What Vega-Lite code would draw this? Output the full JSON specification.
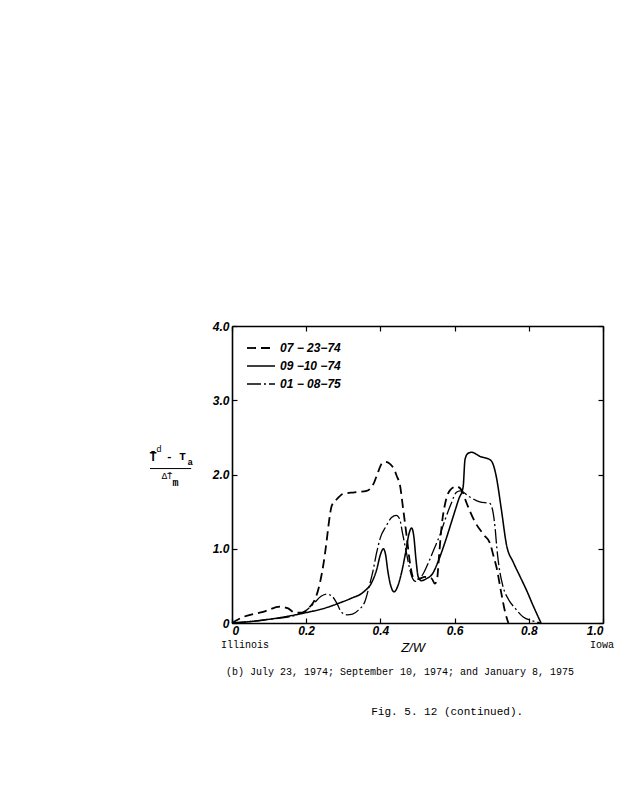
{
  "$schema": "https://vega.github.io/schema/vega-lite/v6.json",
  "width": 371,
  "height": 297,
  "autosize": {"type": "none"},
  "padding": {"left": 232, "top": 326, "right": 14, "bottom": 177},
  "background": "white",
  "config": {
    "view": {"stroke": null},
    "axis": {"grid": false, "domainColor": "black", "tickColor": "black", "labelColor": "black", "domainWidth": 1.6, "tickWidth": 1.2}
  },
  "datasets": {
    "curves": [
      {"series": "07 − 23−74", "x": 0, "y": 0},
      {"series": "07 − 23−74", "x": 0.03, "y": 0.08},
      {"series": "07 − 23−74", "x": 0.084, "y": 0.15},
      {"series": "07 − 23−74", "x": 0.13, "y": 0.22},
      {"series": "07 − 23−74", "x": 0.15, "y": 0.2},
      {"series": "07 − 23−74", "x": 0.17, "y": 0.14},
      {"series": "07 − 23−74", "x": 0.19, "y": 0.14},
      {"series": "07 − 23−74", "x": 0.21, "y": 0.22},
      {"series": "07 − 23−74", "x": 0.222, "y": 0.3},
      {"series": "07 − 23−74", "x": 0.237, "y": 0.54},
      {"series": "07 − 23−74", "x": 0.247, "y": 0.81},
      {"series": "07 − 23−74", "x": 0.255, "y": 1.1},
      {"series": "07 − 23−74", "x": 0.26, "y": 1.31},
      {"series": "07 − 23−74", "x": 0.269, "y": 1.58},
      {"series": "07 − 23−74", "x": 0.283, "y": 1.67},
      {"series": "07 − 23−74", "x": 0.3, "y": 1.74},
      {"series": "07 − 23−74", "x": 0.33, "y": 1.76},
      {"series": "07 − 23−74", "x": 0.363, "y": 1.78},
      {"series": "07 − 23−74", "x": 0.381, "y": 1.87},
      {"series": "07 − 23−74", "x": 0.395, "y": 2.05},
      {"series": "07 − 23−74", "x": 0.404, "y": 2.15},
      {"series": "07 − 23−74", "x": 0.413, "y": 2.17},
      {"series": "07 − 23−74", "x": 0.435, "y": 2.09},
      {"series": "07 − 23−74", "x": 0.444, "y": 1.98},
      {"series": "07 − 23−74", "x": 0.453, "y": 1.85},
      {"series": "07 − 23−74", "x": 0.461, "y": 1.55},
      {"series": "07 − 23−74", "x": 0.471, "y": 1.16},
      {"series": "07 − 23−74", "x": 0.48, "y": 0.8},
      {"series": "07 − 23−74", "x": 0.488, "y": 0.62},
      {"series": "07 − 23−74", "x": 0.5, "y": 0.59},
      {"series": "07 − 23−74", "x": 0.52, "y": 0.62},
      {"series": "07 − 23−74", "x": 0.538, "y": 0.6},
      {"series": "07 − 23−74", "x": 0.547, "y": 0.53},
      {"series": "07 − 23−74", "x": 0.553, "y": 0.6},
      {"series": "07 − 23−74", "x": 0.558, "y": 0.9},
      {"series": "07 − 23−74", "x": 0.565, "y": 1.3},
      {"series": "07 − 23−74", "x": 0.575, "y": 1.62},
      {"series": "07 − 23−74", "x": 0.588, "y": 1.79},
      {"series": "07 − 23−74", "x": 0.605, "y": 1.84},
      {"series": "07 − 23−74", "x": 0.62, "y": 1.78},
      {"series": "07 − 23−74", "x": 0.632, "y": 1.62},
      {"series": "07 − 23−74", "x": 0.655, "y": 1.36},
      {"series": "07 − 23−74", "x": 0.68, "y": 1.18},
      {"series": "07 − 23−74", "x": 0.695, "y": 1.08},
      {"series": "07 − 23−74", "x": 0.705, "y": 0.9},
      {"series": "07 − 23−74", "x": 0.713, "y": 0.75},
      {"series": "07 − 23−74", "x": 0.726, "y": 0.4},
      {"series": "07 − 23−74", "x": 0.736, "y": 0.15},
      {"series": "07 − 23−74", "x": 0.745, "y": 0},
      {"series": "09 −10 −74", "x": 0, "y": 0},
      {"series": "09 −10 −74", "x": 0.05, "y": 0.02},
      {"series": "09 −10 −74", "x": 0.1, "y": 0.05},
      {"series": "09 −10 −74", "x": 0.15, "y": 0.09},
      {"series": "09 −10 −74", "x": 0.2, "y": 0.14},
      {"series": "09 −10 −74", "x": 0.25, "y": 0.2},
      {"series": "09 −10 −74", "x": 0.29, "y": 0.27},
      {"series": "09 −10 −74", "x": 0.32, "y": 0.33},
      {"series": "09 −10 −74", "x": 0.355, "y": 0.42},
      {"series": "09 −10 −74", "x": 0.377, "y": 0.55},
      {"series": "09 −10 −74", "x": 0.39, "y": 0.72},
      {"series": "09 −10 −74", "x": 0.4, "y": 0.92},
      {"series": "09 −10 −74", "x": 0.408, "y": 1.0},
      {"series": "09 −10 −74", "x": 0.414, "y": 0.92},
      {"series": "09 −10 −74", "x": 0.42, "y": 0.7},
      {"series": "09 −10 −74", "x": 0.428, "y": 0.5},
      {"series": "09 −10 −74", "x": 0.437, "y": 0.42},
      {"series": "09 −10 −74", "x": 0.447, "y": 0.5},
      {"series": "09 −10 −74", "x": 0.458, "y": 0.7},
      {"series": "09 −10 −74", "x": 0.468, "y": 0.95},
      {"series": "09 −10 −74", "x": 0.477, "y": 1.2},
      {"series": "09 −10 −74", "x": 0.484, "y": 1.28},
      {"series": "09 −10 −74", "x": 0.49, "y": 1.17},
      {"series": "09 −10 −74", "x": 0.496, "y": 0.85},
      {"series": "09 −10 −74", "x": 0.502, "y": 0.62},
      {"series": "09 −10 −74", "x": 0.51, "y": 0.57},
      {"series": "09 −10 −74", "x": 0.525, "y": 0.6},
      {"series": "09 −10 −74", "x": 0.54, "y": 0.66},
      {"series": "09 −10 −74", "x": 0.555, "y": 0.82},
      {"series": "09 −10 −74", "x": 0.575, "y": 1.1},
      {"series": "09 −10 −74", "x": 0.596, "y": 1.43},
      {"series": "09 −10 −74", "x": 0.612, "y": 1.68},
      {"series": "09 −10 −74", "x": 0.623, "y": 1.83},
      {"series": "09 −10 −74", "x": 0.628, "y": 2.2},
      {"series": "09 −10 −74", "x": 0.635, "y": 2.28},
      {"series": "09 −10 −74", "x": 0.645, "y": 2.3},
      {"series": "09 −10 −74", "x": 0.67, "y": 2.24},
      {"series": "09 −10 −74", "x": 0.695, "y": 2.2},
      {"series": "09 −10 −74", "x": 0.705, "y": 2.12},
      {"series": "09 −10 −74", "x": 0.712, "y": 1.98},
      {"series": "09 −10 −74", "x": 0.726, "y": 1.53},
      {"series": "09 −10 −74", "x": 0.74, "y": 1.05},
      {"series": "09 −10 −74", "x": 0.758, "y": 0.82},
      {"series": "09 −10 −74", "x": 0.776, "y": 0.63},
      {"series": "09 −10 −74", "x": 0.794, "y": 0.44},
      {"series": "09 −10 −74", "x": 0.812, "y": 0.23},
      {"series": "09 −10 −74", "x": 0.833, "y": 0},
      {"series": "01 − 08−75", "x": 0, "y": 0},
      {"series": "01 − 08−75", "x": 0.05, "y": 0.02},
      {"series": "01 − 08−75", "x": 0.1, "y": 0.05},
      {"series": "01 − 08−75", "x": 0.15, "y": 0.08},
      {"series": "01 − 08−75", "x": 0.18, "y": 0.12},
      {"series": "01 − 08−75", "x": 0.2, "y": 0.17},
      {"series": "01 − 08−75", "x": 0.22, "y": 0.26},
      {"series": "01 − 08−75", "x": 0.24, "y": 0.36},
      {"series": "01 − 08−75", "x": 0.255, "y": 0.39},
      {"series": "01 − 08−75", "x": 0.27, "y": 0.36},
      {"series": "01 − 08−75", "x": 0.282, "y": 0.27},
      {"series": "01 − 08−75", "x": 0.296, "y": 0.14},
      {"series": "01 − 08−75", "x": 0.31, "y": 0.11},
      {"series": "01 − 08−75", "x": 0.325, "y": 0.12},
      {"series": "01 − 08−75", "x": 0.34, "y": 0.17},
      {"series": "01 − 08−75", "x": 0.359, "y": 0.3},
      {"series": "01 − 08−75", "x": 0.37, "y": 0.5},
      {"series": "01 − 08−75", "x": 0.38, "y": 0.7},
      {"series": "01 − 08−75", "x": 0.39, "y": 0.95},
      {"series": "01 − 08−75", "x": 0.4, "y": 1.15},
      {"series": "01 − 08−75", "x": 0.415, "y": 1.3},
      {"series": "01 − 08−75", "x": 0.43, "y": 1.42},
      {"series": "01 − 08−75", "x": 0.443, "y": 1.45},
      {"series": "01 − 08−75", "x": 0.452, "y": 1.4},
      {"series": "01 − 08−75", "x": 0.46, "y": 1.2},
      {"series": "01 − 08−75", "x": 0.47, "y": 0.95},
      {"series": "01 − 08−75", "x": 0.478, "y": 0.75},
      {"series": "01 − 08−75", "x": 0.485, "y": 0.62},
      {"series": "01 − 08−75", "x": 0.495, "y": 0.56},
      {"series": "01 − 08−75", "x": 0.505, "y": 0.6},
      {"series": "01 − 08−75", "x": 0.515, "y": 0.66},
      {"series": "01 − 08−75", "x": 0.53, "y": 0.82},
      {"series": "01 − 08−75", "x": 0.545, "y": 1.0},
      {"series": "01 − 08−75", "x": 0.56, "y": 1.18},
      {"series": "01 − 08−75", "x": 0.575, "y": 1.4},
      {"series": "01 − 08−75", "x": 0.59, "y": 1.6},
      {"series": "01 − 08−75", "x": 0.605, "y": 1.76},
      {"series": "01 − 08−75", "x": 0.615, "y": 1.78},
      {"series": "01 − 08−75", "x": 0.64, "y": 1.7},
      {"series": "01 − 08−75", "x": 0.668, "y": 1.63},
      {"series": "01 − 08−75", "x": 0.695, "y": 1.61},
      {"series": "01 − 08−75", "x": 0.704, "y": 1.48},
      {"series": "01 − 08−75", "x": 0.709, "y": 1.29},
      {"series": "01 − 08−75", "x": 0.714, "y": 1.0},
      {"series": "01 − 08−75", "x": 0.72, "y": 0.75},
      {"series": "01 − 08−75", "x": 0.73, "y": 0.5},
      {"series": "01 − 08−75", "x": 0.745, "y": 0.32},
      {"series": "01 − 08−75", "x": 0.763, "y": 0.2},
      {"series": "01 − 08−75", "x": 0.785, "y": 0.08},
      {"series": "01 − 08−75", "x": 0.81, "y": 0.03},
      {"series": "01 − 08−75", "x": 0.83, "y": 0}
    ]
  },
  "resolve": {"axis": {"x": "independent", "y": "independent"}},
  "layer": [
    {
      "data": {"name": "curves"},
      "mark": {"type": "line", "interpolate": "monotone", "color": "black"},
      "encoding": {
        "x": {
          "field": "x", "type": "quantitative",
          "scale": {"domain": [0, 1], "nice": false, "zero": false},
          "axis": {
            "orient": "bottom", "values": [0, 0.2, 0.4, 0.6, 0.8, 1],
            "labelExpr": "datum.value == 0 ? '0' : format(datum.value, '.1f')",
            "tickSize": -5, "labelPadding": 7, "title": null,
            "labelFont": "Liberation Sans", "labelFontStyle": "italic", "labelFontWeight": "bold", "labelFontSize": 12
          }
        },
        "y": {
          "field": "y", "type": "quantitative",
          "scale": {"domain": [0, 4], "nice": false},
          "axis": {
            "orient": "left", "values": [0, 1, 2, 3, 4],
            "labelExpr": "datum.value == 0 ? '0' : format(datum.value, '.1f')",
            "tickSize": -5, "labelPadding": 8, "title": null,
            "labelFont": "Liberation Sans", "labelFontStyle": "italic", "labelFontWeight": "bold", "labelFontSize": 12
          }
        },
        "strokeDash": {
          "field": "series", "type": "nominal",
          "scale": {"domain": ["07 − 23−74", "09 −10 −74", "01 − 08−75"], "range": [[9, 5], [1, 0], [14, 3, 2, 3]]},
          "legend": {
            "orient": "none", "legendX": 21, "legendY": 14, "title": null,
            "symbolType": "M-2,0H2", "symbolSize": 196, "symbolStrokeWidth": 1.6, "symbolStrokeColor": "black",
            "labelFont": "Liberation Sans", "labelFontStyle": "italic", "labelFontWeight": "bold", "labelFontSize": 12,
            "labelColor": "black", "labelOffset": 11, "rowPadding": 4
          }
        },
        "strokeWidth": {
          "field": "series", "type": "nominal",
          "scale": {"domain": ["07 − 23−74", "09 −10 −74", "01 − 08−75"], "range": [1.8, 1.3, 1.4]},
          "legend": null
        }
      }
    },
    {
      "data": {"values": [{"v": 0}]},
      "mark": {"type": "point", "opacity": 0},
      "encoding": {
        "x": {"field": "v", "type": "quantitative", "axis": {"orient": "top", "values": [0, 0.2, 0.4, 0.6, 0.8, 1], "labels": false, "tickSize": -5, "title": null}},
        "y": {"field": "v", "type": "quantitative", "axis": {"orient": "right", "values": [0, 1, 2, 3, 4], "labels": false, "tickSize": -5, "title": null}}
      }
    },
    {
      "data": {"values": [{"t": "Illinois"}]},
      "mark": {"type": "text", "font": "Liberation Mono", "fontSize": 10, "color": "black", "align": "center", "baseline": "middle"},
      "encoding": {"x": {"datum": 0.035, "type": "quantitative", "axis": null}, "y": {"datum": -0.3, "type": "quantitative", "axis": null}, "text": {"field": "t"}}
    },
    {
      "data": {"values": [{"t": "Iowa"}]},
      "mark": {"type": "text", "font": "Liberation Mono", "fontSize": 10, "color": "black", "align": "left", "baseline": "middle"},
      "encoding": {"x": {"datum": 0.965, "type": "quantitative", "axis": null}, "y": {"datum": -0.3, "type": "quantitative", "axis": null}, "text": {"field": "t"}}
    },
    {
      "data": {"values": [{"t": "Z/W"}]},
      "mark": {"type": "text", "font": "Liberation Sans", "fontStyle": "italic", "fontSize": 13, "color": "black", "align": "center", "baseline": "middle"},
      "encoding": {"x": {"datum": 0.488, "type": "quantitative", "axis": null}, "y": {"datum": -0.34, "type": "quantitative", "axis": null}, "text": {"field": "t"}}
    },
    {
      "data": {"values": [{"t": "(b) July 23, 1974; September 10, 1974; and January 8, 1975"}]},
      "mark": {"type": "text", "font": "Liberation Mono", "fontSize": 10, "color": "black", "align": "center", "baseline": "middle"},
      "encoding": {"x": {"datum": 0.453, "type": "quantitative", "axis": null}, "y": {"datum": -0.66, "type": "quantitative", "axis": null}, "text": {"field": "t"}}
    },
    {
      "data": {"values": [{"t": "Fig. 5. 12  (continued)."}]},
      "mark": {"type": "text", "font": "Liberation Mono", "fontSize": 11, "color": "black", "align": "center", "baseline": "middle"},
      "encoding": {"x": {"datum": 0.58, "type": "quantitative", "axis": null}, "y": {"datum": -1.2, "type": "quantitative", "axis": null}, "text": {"field": "t"}}
    },
    {
      "data": {"values": [{"t": "T̄"}]},
      "mark": {"type": "text", "font": "Liberation Mono", "fontWeight": "bold", "fontSize": 12, "color": "black", "align": "center", "baseline": "middle"},
      "encoding": {"x": {"datum": -0.213, "type": "quantitative", "axis": null}, "y": {"datum": 2.24, "type": "quantitative", "axis": null}, "text": {"field": "t"}}
    },
    {
      "data": {"values": [{"t": "d"}]},
      "mark": {"type": "text", "font": "Liberation Mono", "fontSize": 9, "color": "black", "align": "center", "baseline": "middle"},
      "encoding": {"x": {"datum": -0.197, "type": "quantitative", "axis": null}, "y": {"datum": 2.34, "type": "quantitative", "axis": null}, "text": {"field": "t"}}
    },
    {
      "data": {"values": [{"t": "- T"}]},
      "mark": {"type": "text", "font": "Liberation Mono", "fontWeight": "bold", "fontSize": 11, "color": "black", "align": "left", "baseline": "middle"},
      "encoding": {"x": {"datum": -0.178, "type": "quantitative", "axis": null}, "y": {"datum": 2.24, "type": "quantitative", "axis": null}, "text": {"field": "t"}}
    },
    {
      "data": {"values": [{"t": "a"}]},
      "mark": {"type": "text", "font": "Liberation Mono", "fontWeight": "bold", "fontSize": 9, "color": "black", "align": "left", "baseline": "middle"},
      "encoding": {"x": {"datum": -0.12, "type": "quantitative", "axis": null}, "y": {"datum": 2.17, "type": "quantitative", "axis": null}, "text": {"field": "t"}}
    },
    {
      "data": {"values": [{"a": -0.221, "b": -0.11}]},
      "mark": {"type": "rule", "color": "black", "strokeWidth": 1},
      "encoding": {"x": {"field": "a", "type": "quantitative", "axis": null}, "x2": {"field": "b"}, "y": {"datum": 2.08, "type": "quantitative", "axis": null}}
    },
    {
      "data": {"values": [{"t": "ΔT̄"}]},
      "mark": {"type": "text", "font": "Liberation Mono", "fontSize": 9, "color": "black", "align": "center", "baseline": "middle"},
      "encoding": {"x": {"datum": -0.175, "type": "quantitative", "axis": null}, "y": {"datum": 1.98, "type": "quantitative", "axis": null}, "text": {"field": "t"}}
    },
    {
      "data": {"values": [{"t": "m"}]},
      "mark": {"type": "text", "font": "Liberation Mono", "fontWeight": "bold", "fontSize": 10, "color": "black", "align": "center", "baseline": "middle"},
      "encoding": {"x": {"datum": -0.152, "type": "quantitative", "axis": null}, "y": {"datum": 1.88, "type": "quantitative", "axis": null}, "text": {"field": "t"}}
    }
  ]
}
